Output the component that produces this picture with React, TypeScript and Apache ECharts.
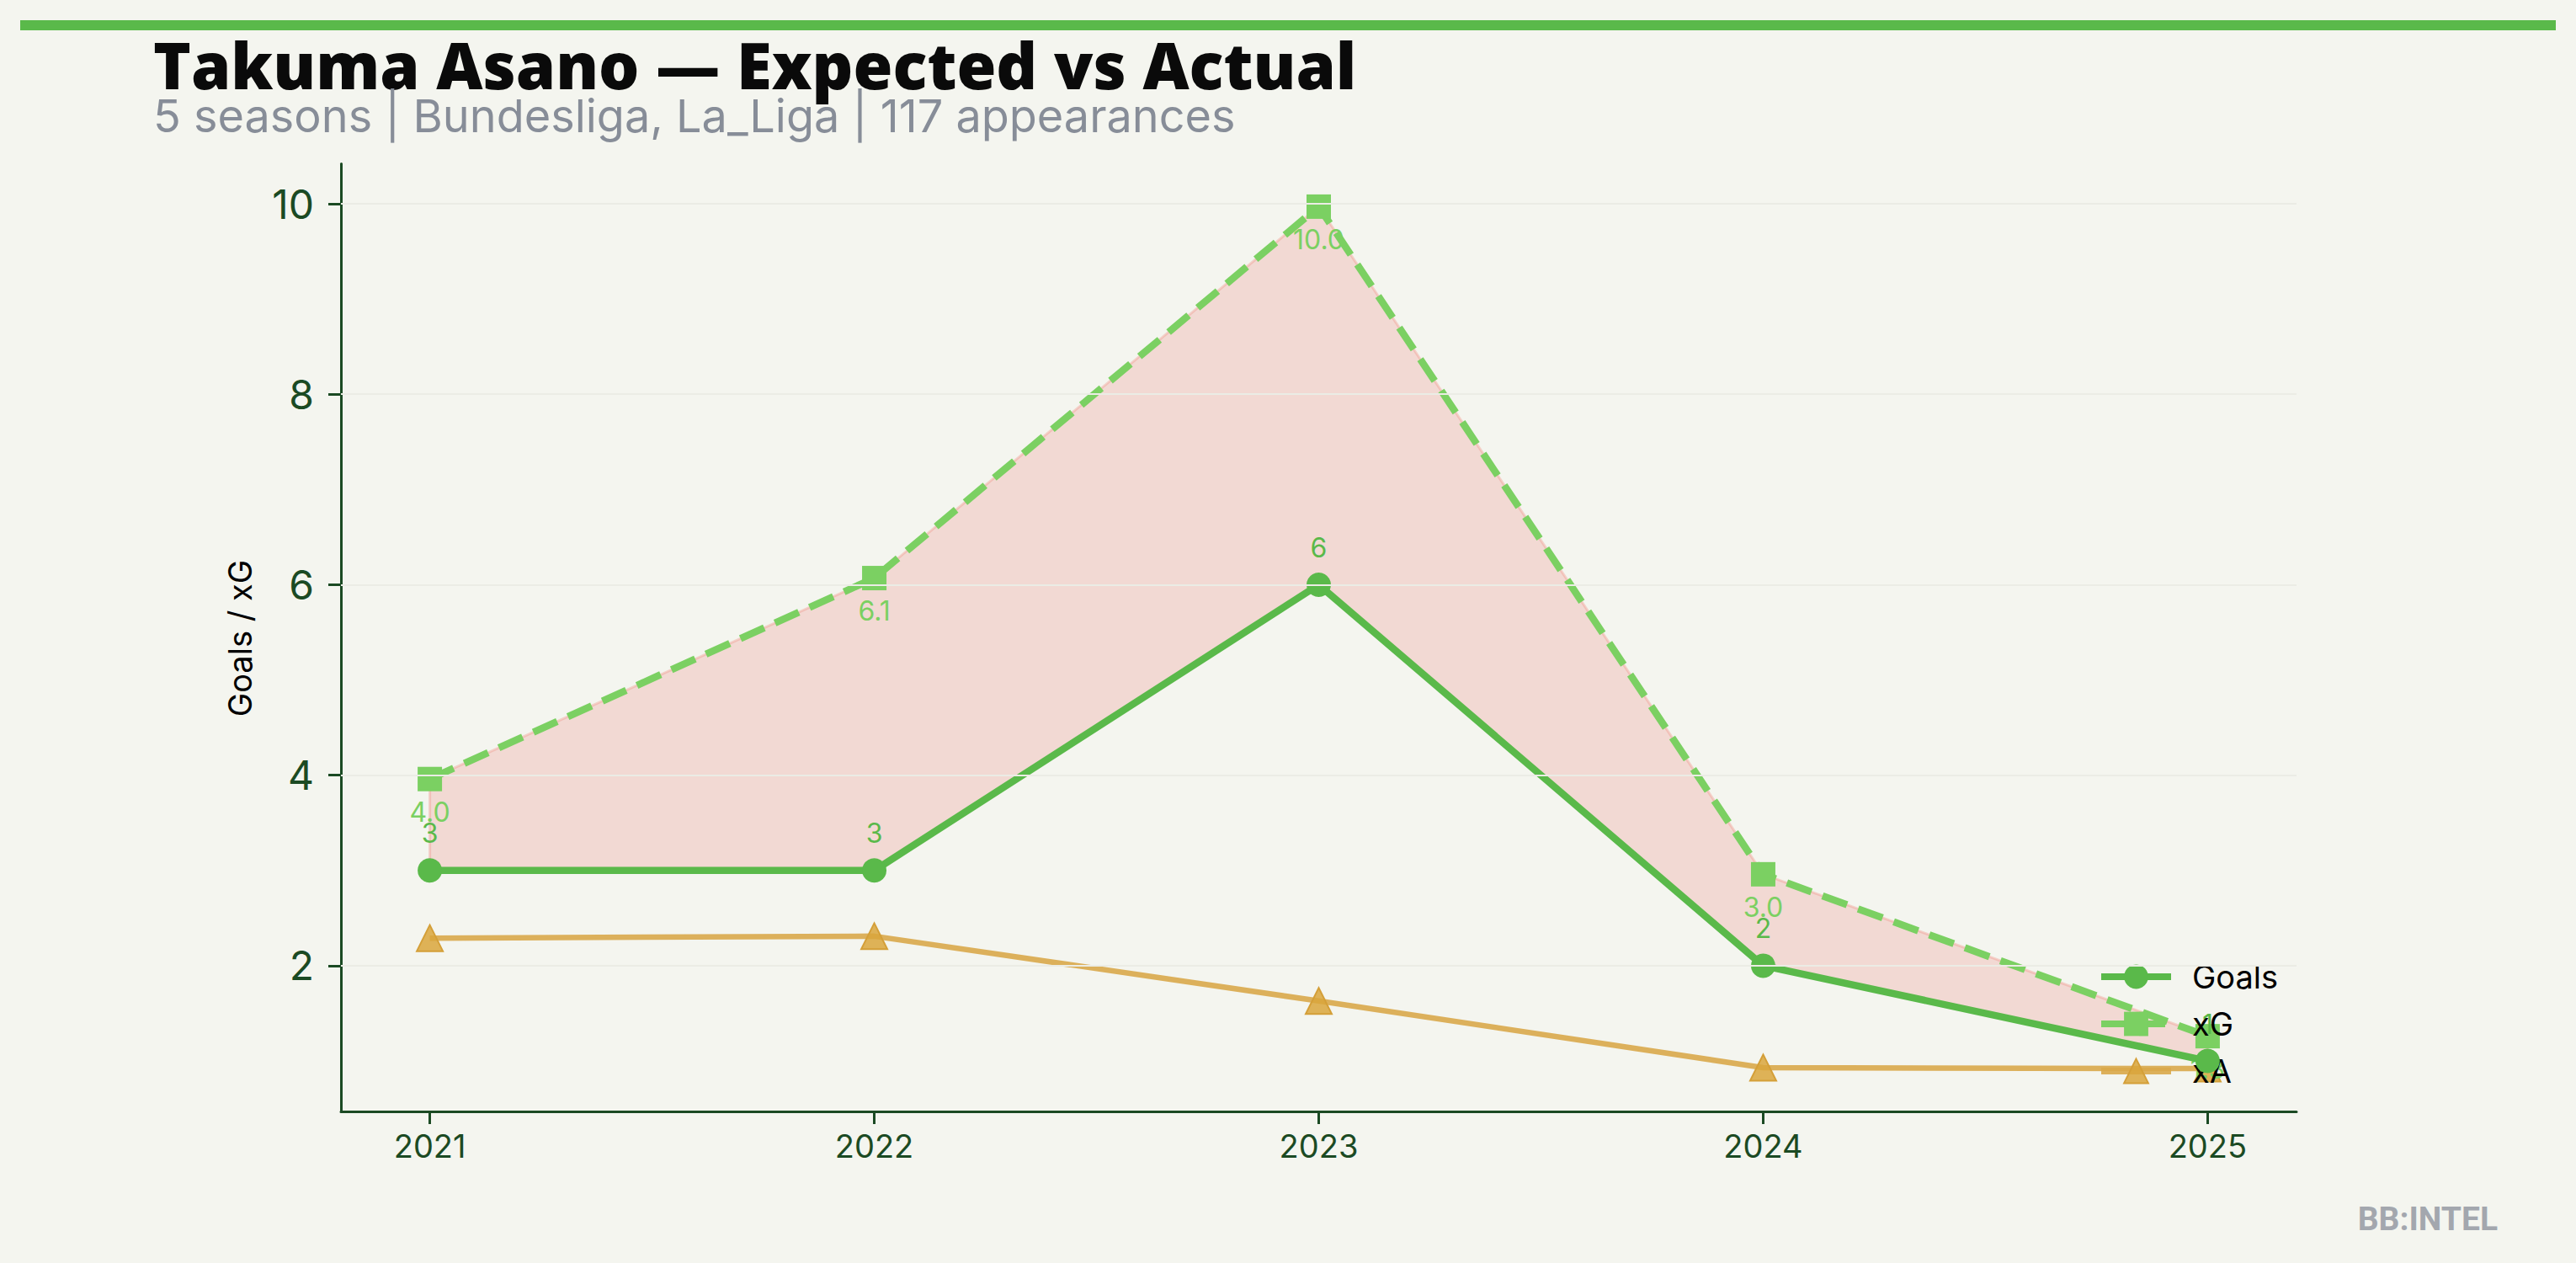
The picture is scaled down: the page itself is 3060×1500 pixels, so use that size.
import React, { useEffect, useRef } from "react";
import * as echarts from "echarts";

const YEARS = [2021, 2022, 2023, 2024, 2025];
const GOALS = [3, 3, 6, 2, 1];
const XG = [3.96, 6.07, 9.97, 2.96, 1.26];
const XA = [2.29, 2.31, 1.63, 0.93, 0.92];
const Y_TICKS = [2, 4, 6, 8, 10];
const X_TICKS = [2021, 2022, 2023, 2024, 2025];
const Y_MIN = 0.47;
const Y_MAX = 10.42;
const X_MIN = 2020.8;
const X_MAX = 2025.2;

const TITLE = "Takuma Asano — Expected vs Actual";
const SUBTITLE = "5 seasons | Bundesliga, La_Liga | 117 appearances";
const Y_NAME = "Goals / xG";
const WATERMARK = "BB:INTEL";

const BG = "#f4f5ef";
const AXIS = "#1b4a23";
const GOALS_C = "#5ab94a";
const XG_C = "#7bd062";
const FONT = "Inter, 'Noto Sans', sans-serif";

export default function App() {
  const ref = useRef<HTMLDivElement>(null);
  useEffect(() => {
    if (!ref.current) return;
    const chart = echarts.init(ref.current, null, { renderer: "svg" });
    const pair = (arr: number[]) => YEARS.map((y, i) => [y, arr[i]]);
    chart.setOption({
      animation: false,
      backgroundColor: BG,
      textStyle: { fontFamily: FONT },
      grid: { left: 405, right: 332, top: 194.5, bottom: 180, containLabel: false },
      xAxis: {
        type: "value",
        min: X_MIN,
        max: X_MAX,
        axisLine: { show: true, lineStyle: { color: AXIS, width: 3 } },
        axisTick: { show: true, length: 15, lineStyle: { color: AXIS, width: 3 }, customValues: X_TICKS },
        axisLabel: {
          customValues: X_TICKS,
          formatter: (v: number) => String(Math.round(v)),
          color: AXIS,
          fontSize: 38,
          fontFamily: FONT,
          margin: 22,
        },
        splitLine: { show: false },
      },
      yAxis: {
        type: "value",
        min: Y_MIN,
        max: Y_MAX,
        axisLine: { show: true, lineStyle: { color: AXIS, width: 3 } },
        axisTick: { show: true, length: 15, lineStyle: { color: AXIS, width: 3 }, customValues: Y_TICKS },
        axisLabel: {
          customValues: Y_TICKS,
          formatter: (v: number) => String(Math.round(v)),
          color: AXIS,
          fontSize: 48,
          fontFamily: FONT,
          margin: 32,
        },
        splitLine: { show: false },
      },
      legend: {
        data: ["Goals", "xG", "xA"],
        orient: "vertical",
        left: 2487,
        top: 1136,
        itemWidth: 83,
        itemHeight: 36,
        itemGap: 18,
        lineStyle: { width: 8 },
        textStyle: { color: "#000", fontSize: 38, fontFamily: FONT, lineHeight: 38, padding: [0, 0, 0, 20] },
      },
      series: [
        {
          name: "_grid",
          type: "line",
          data: pair(GOALS),
          symbol: "none",
          lineStyle: { opacity: 0 },
          silent: true,
          z: 0,
          markLine: {
            silent: true,
            symbol: "none",
            label: { show: false },
            lineStyle: { color: "#ebece5", width: 2, type: "solid" },
            data: Y_TICKS.map((v) => ({ yAxis: v })),
          },
        },
        {
          name: "_fill",
          type: "custom",
          data: pair(GOALS),
          silent: true,
          z: 1,
          renderItem: (params: any, api: any) => {
            if (params.dataIndex !== 0) return null;
            const top = YEARS.map((y, i) => api.coord([y, XG[i]]));
            const bot = YEARS.map((y, i) => api.coord([y, GOALS[i]])).reverse();
            return {
              type: "polygon",
              shape: { points: top.concat(bot) },
              style: { fill: "rgba(235,95,85,0.18)", stroke: "rgba(240,140,130,0.35)", lineWidth: 3 },
            };
          },
        },
        {
          name: "xA",
          type: "line",
          data: pair(XA),
          symbol: "triangle",
          symbolSize: 31,
          lineStyle: { color: "rgba(217,169,74,0.9)", width: 6.5 },
          itemStyle: { color: "rgba(217,166,60,0.85)", borderColor: "#d49f38", borderWidth: 2 },
          z: 2,
        },
        {
          name: "xG",
          type: "line",
          data: pair(XG),
          symbol: "rect",
          symbolSize: 29,
          lineStyle: { color: XG_C, width: 8.5, type: [31, 14] },
          itemStyle: { color: XG_C },
          label: {
            show: true,
            position: "inside",
            offset: [0, 39],
            formatter: (p: any) => p.value[1].toFixed(1),
            color: XG_C,
            fontSize: 32,
            fontFamily: FONT,
          },
          z: 3,
        },
        {
          name: "Goals",
          type: "line",
          data: pair(GOALS),
          symbol: "circle",
          symbolSize: 29,
          lineStyle: { color: GOALS_C, width: 8.5 },
          itemStyle: { color: GOALS_C },
          label: {
            show: true,
            position: "inside",
            offset: [0, -44],
            formatter: (p: any) => String(p.value[1]),
            color: GOALS_C,
            fontSize: 32,
            fontFamily: FONT,
          },
          z: 4,
        },
      ],
      graphic: [
        { type: "rect", shape: { x: 24, y: 24, width: 3012, height: 12 }, style: { fill: GOALS_C }, silent: true },
        {
          type: "text",
          x: 182,
          y: 76,
          style: {
            text: TITLE,
            fill: "#0a0a0a",
            fontSize: 76,
            fontWeight: 800,
            fontFamily: "'Open Sans', Lato, sans-serif",
            textVerticalAlign: "middle",
          },
        },
        {
          type: "text",
          x: 182,
          y: 137,
          style: { text: SUBTITLE, fill: "#878d98", fontSize: 54, fontFamily: FONT, textVerticalAlign: "middle" },
        },
        {
          type: "text",
          x: 284.5,
          y: 758,
          rotation: Math.PI / 2,
          style: { text: Y_NAME, fill: "#000", fontSize: 38, fontFamily: FONT, textAlign: "center", textVerticalAlign: "middle" },
        },
        {
          type: "text",
          x: 2967,
          y: 1448,
          style: {
            text: WATERMARK,
            fill: "#a3a7ae",
            fontSize: 39,
            fontWeight: "bold",
            fontFamily: "Roboto, 'DejaVu Sans', sans-serif",
            textAlign: "right",
            textVerticalAlign: "middle",
          },
        },
      ],
    });
    return () => chart.dispose();
  }, []);
  return <div ref={ref} style={{ position: "absolute", left: 0, top: 0, width: 3060, height: 1500 }} />;
}
